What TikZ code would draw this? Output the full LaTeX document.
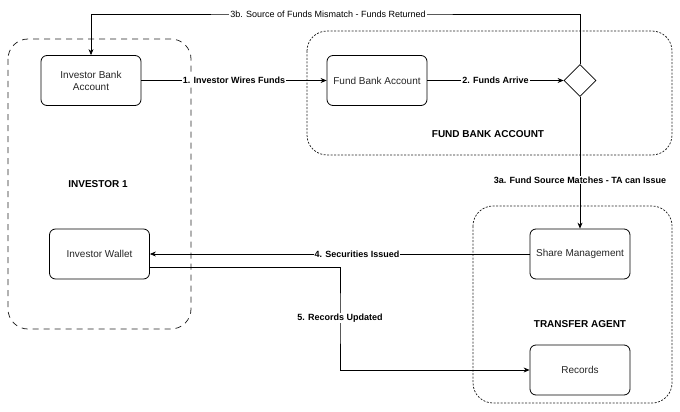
\documentclass[tikz,border=0pt]{standalone}
\usepackage{fontspec}
\setmainfont{Liberation Sans}
\usetikzlibrary{shapes.geometric,arrows.meta}

\tikzset{
	box/.style = {draw, line width = 0.8pt, rounded corners = 6pt, minimum width = 100pt, minimum height = 50pt, align = center, text = black!85, font = \fontsize{10}{12}\selectfont},
	grp/.style = {rounded corners = 20pt, line width = 0.75pt},
	dashgrp/.style = {grp, draw = black!85, dash pattern = on 6pt off 5pt},
	dotgrp/.style = {grp, draw = black!85, dash pattern = on 2pt off 1.5pt},
	grplbl/.style = {font = \fontsize{10}{12}\selectfont\bfseries},
	lbl/.style = {fill = white, inner sep = 1pt, font = \fontsize{9}{11}\selectfont\bfseries},
	arr/.style = {-{Stealth[length = 6pt, width = 5pt]}, line width = 0.7pt}
}

\begin{document}
\begin{tikzpicture}[x = 1pt, y = -1pt]
	\useasboundingbox [fill = white] (0, 0) rectangle (680, 412);

	% groups
	\draw [dashgrp] (8, 39) rectangle (191, 329);
	\draw [dotgrp] (307, 31) rectangle (672, 155);
	\draw [dotgrp] (473, 206) rectangle (672, 403);

	\node [grplbl] (inv) at (98, 184) {INVESTOR 1};
	\node [grplbl] (fba) at (488, 134) {FUND BANK ACCOUNT};
	\node [grplbl] (ta) at (580, 324) {TRANSFER AGENT};

	% boxes
	\node [box] (ibank) at (91, 80.5) {Investor Bank\\Account};
	\node [box] (wallet) at (99.5, 254) {Investor Wallet};
	\node [box] (fbank) at (377, 80.5) {Fund Bank Account};
	\node [draw, line width = 0.8pt, diamond, aspect = 1, inner sep = 0pt, minimum width = 32pt, minimum height = 32pt] (dec) at (580, 80.5) {};
	\node [box] (share) at (580, 254) {Share Management};
	\node [box] (records) at (580, 370) {Records};

	\coordinate (t3b) at (328, 14);
	\coordinate (k5) at (340, 318);

	% flows
	\draw [arr] (ibank) -- node [lbl] (l1) {1. Investor Wires Funds} (fbank);
	\draw [arr] (fbank) -- node [lbl] (l2) {2. Funds Arrive} (dec);
	\draw [arr] (dec.north) |- (t3b) -| (ibank.north);
	\node [lbl, font = \fontsize{9}{11}\selectfont] (l3b) at (t3b) {3b. Source of Funds Mismatch - Funds Returned};
	\draw [arr] (dec.south) -- (share.north);
	\node [lbl] (l3a) at (580, 180) {3a. Fund Source Matches - TA can Issue};
	\draw [arr] (share.west) -- (wallet.east);
	\node [lbl] (l4) at (357, 254) {4. Securities Issued};
	\draw [arr] ([yshift = -13pt]wallet.east) -| (k5) |- (records.west);
	\node [lbl] (l5) at (k5) {5. Records Updated};
\end{tikzpicture}
\end{document}
